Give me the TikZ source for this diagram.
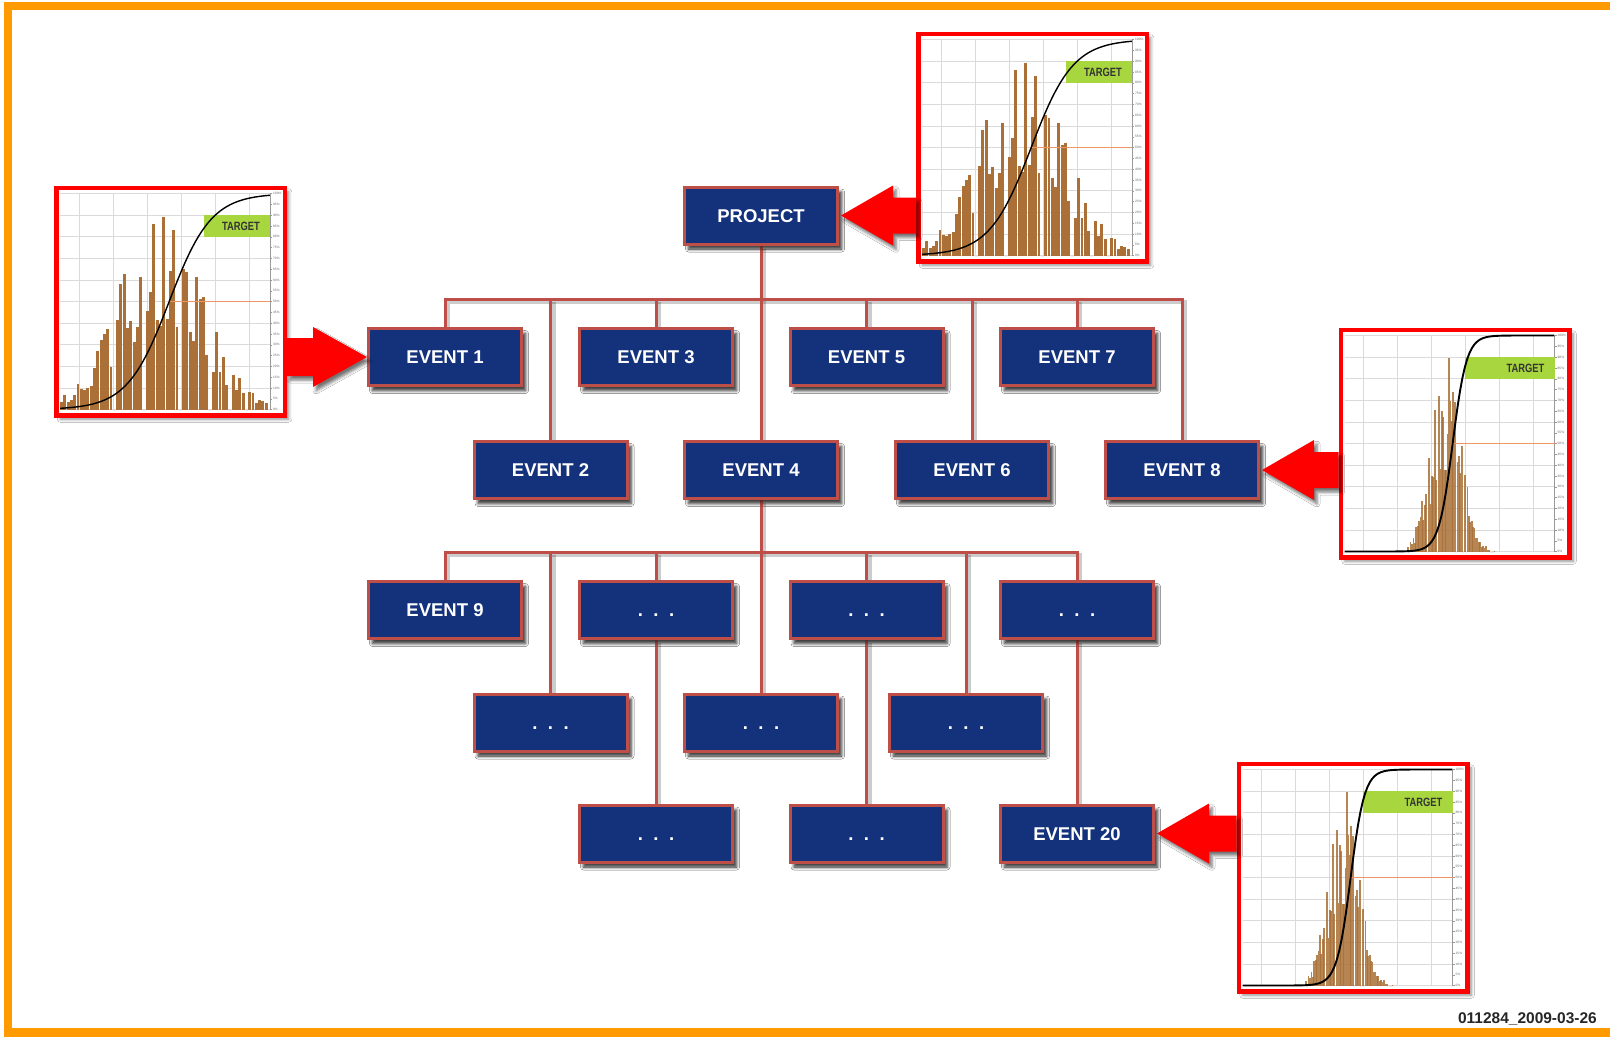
\documentclass[tikz,border=0pt]{standalone}
\usepackage{fontspec}
\setmainfont{Liberation Sans}
\usetikzlibrary{shadows.blur,calc}
\definecolor{navy}{RGB}{20,50,124}
\definecolor{linered}{RGB}{190,78,72}
\definecolor{frameorange}{RGB}{255,155,0}
\definecolor{barbrown}{RGB}{170,112,55}
\definecolor{tgreen}{RGB}{168,214,62}
\definecolor{gridgray}{RGB}{218,218,218}
\definecolor{halfline}{RGB}{240,150,100}
\tikzset{
  evbox/.style={draw=linered, line width=3pt, fill=navy, minimum width=153pt, minimum height=57pt,
    inner sep=0pt, text=white, font=\fontsize{18.5}{20}\selectfont\bfseries, text height=13.3pt, text depth=0pt,
    blur shadow={shadow xshift=4pt, shadow yshift=-5pt, shadow blur radius=3pt, shadow opacity=50}},
  chartbox/.style={draw=red, line width=4.5pt, fill=white, minimum width=228.5pt, minimum height=227.5pt,
    inner sep=0pt, blur shadow={shadow xshift=4pt, shadow yshift=-4pt, shadow blur radius=3pt, shadow opacity=45}},
  conn/.style={draw=linered, line width=3pt},
  connshadow/.style={draw=black, opacity=0.2, line width=4pt, transform canvas={shift={(3pt,-3pt)}}},
  fatarrow/.style={fill=red, blur shadow={shadow xshift=3pt, shadow yshift=-4pt, shadow blur radius=3pt, shadow opacity=55}},
  pct/.style={font=\fontsize{3.2}{3.2}\selectfont, text=black!60, anchor=west, inner sep=0pt},
}
% chart helpers (local coords: origin = outer top-left, y down)
\newcommand\chartgrid{%
  \foreach \gx in {25,59,93,127,161,195} \draw[gridgray, line width=0.7pt] (\gx,8) -- (\gx,224);
  \foreach \gv in {0,...,10} \draw[gridgray, line width=0.7pt] (6,{224-21.6*\gv}) -- (216,{224-21.6*\gv});
  \draw[black!40, line width=0.5pt] (216,8) -- (216,224);
  \foreach \p in {0,5,...,100} {
    \draw[black!40, line width=0.4pt] (216,{224-2.16*\p}) -- (218,{224-2.16*\p});
    \node[pct] at (219,{224-2.16*\p}) {\p\%};
  }}
\newcommand\chartbars[8]{% seed, f0, f1, n, mu, sd, barwidth, opacity
  \pgfmathsetseed{#1}
  \foreach \i in {0,...,#4}{
    \pgfmathsetmacro\ff{#2+(#3-#2)*\i/#4}
    \pgfmathsetmacro\hh{0.92*exp(-0.5*((\ff-#5)/#6)^2)*(rnd<0.08 ? 0 : 0.4+0.6*rnd)}
    \fill[barbrown, fill opacity=#8] ({6+210*\ff},224) rectangle ({6+210*\ff+#7},{224-216*\hh});
  }}
\newcommand\chartrest[5]{% fifty-start, target-start, mu, s, curve width
  \draw[halfline, line width=0.6pt] ({6+210*#1},116) -- (216,116);
  \fill[tgreen] ({6+210*#2},{224-216*0.9}) rectangle (216,{224-216*0.8});
  \node[font=\fontsize{12}{12}\selectfont\bfseries, text=black!80, anchor=east, inner sep=0pt, xscale=0.78]
    at (206,{224-216*0.85}) {TARGET};
  \draw[black, line width=#5pt, line join=round]
    plot[domain=0:1, samples=90] ({6+210*\x},{224-216/(1+exp(-max(-9,min(9,(\x-#3)/#4))))});
}
\newcommand\widechart[1]{%
  \begin{scope}[shift={(#1.north west)}]
    \chartgrid
    \chartbars{17}{0}{0.975}{62}{0.47}{0.2}{2.9}{1}
    \chartrest{0.52}{0.686}{0.52}{0.1}{1.4}
  \end{scope}}
\newcommand\narrowchart[1]{%
  \begin{scope}[shift={(#1.north west)}]
    \chartgrid
    \chartbars{23}{0.29}{0.71}{62}{0.48}{0.07}{1.8}{0.85}
    \chartrest{0.505}{0.576}{0.515}{0.033}{1.9}
  \end{scope}}
% fat arrows drawn from chart to node
\newcommand\arrowleft[2]{%
  \fill[fatarrow] ($(#2.east)+(2,0)$) -- ++(52,-30) -- ++(0,12) -- ($(#1.west |- #2.east)+(0,-18)$)
    -- ($(#1.west |- #2.east)+(0,18)$) -- ($(#2.east)+(54,18)$) -- ++(0,12) -- cycle;}
\newcommand\arrowright[2]{%
  \fill[fatarrow] (#2.west) -- ++(-54,-30) -- ++(0,11) -- ($(#1.east |- #2.west)+(0,-19)$)
    -- ($(#1.east |- #2.west)+(0,19)$) -- ($(#2.west)+(-54,19)$) -- ++(0,11) -- cycle;}
\newcommand\allconns[1]{%
  \draw[#1] (e1.north) |- (bus1) -| (e8.north);
  \draw[#1] (proj.south) -- (e4.north);
  \foreach \n in {e2,e3,e5,e6,e7} \draw[#1] (\n.north) -- (\n.north |- bus1);
  \draw[#1] (e9.north) |- (bus2) -| (d3.north);
  \draw[#1] (e4.south) -- (d5.north);
  \foreach \n in {d1,d2,d4,d6} \draw[#1] (\n.north) -- (\n.north |- bus2);
  \draw[#1] (d1.south) -- (d7.north);
  \draw[#1] (d2.south) -- (d8.north);
  \draw[#1] (d3.south) -- (e20.north);
}
\newcommand\tdots{.\hspace{10.5pt}.\hspace{10.5pt}.}
\begin{document}
\begin{tikzpicture}[x=1pt, y=-1pt]
\useasboundingbox (0,0) rectangle (1610,1039);
\fill[white] (0,0) rectangle (1610,1039);
\draw[frameorange, line width=8.5pt] (8,6) rectangle (1614,1032.5);

% charts
\node[chartbox] (c1) at (1032.5,147.5) {};
\widechart{c1}
\node[chartbox] (c2) at (170.5,301.5) {};
\widechart{c2}
\node[chartbox] (c3) at (1455,443.5) {};
\narrowchart{c3}
\node[chartbox] (c4) at (1353,877.5) {};
\narrowchart{c4}

% nodes (positions; redrawn later for layering)
\path
  node[evbox] (proj) at (761,215.5) {PROJECT}
  node[evbox] (e1) at (445,357) {EVENT 1}
  node[evbox] (e3) at (656,357) {EVENT 3}
  node[evbox] (e5) at (866.5,357) {EVENT 5}
  node[evbox] (e7) at (1077,357) {EVENT 7}
  node[evbox] (e2) at (550.5,470) {EVENT 2}
  node[evbox] (e4) at (761,470) {EVENT 4}
  node[evbox] (e6) at (972,470) {EVENT 6}
  node[evbox] (e8) at (1182,470) {EVENT 8}
  node[evbox] (e9) at (445,610) {EVENT 9}
  node[evbox] (d1) at (656,610) {\tdots}
  node[evbox] (d2) at (866.5,610) {\tdots}
  node[evbox] (d3) at (1077,610) {\tdots}
  node[evbox] (d4) at (550.5,722.5) {\tdots}
  node[evbox] (d5) at (761,722.5) {\tdots}
  node[evbox] (d6) at (966,722.5) {\tdots}
  node[evbox] (d7) at (656,833.5) {\tdots}
  node[evbox] (d8) at (866.5,833.5) {\tdots}
  node[evbox] (e20) at (1077,833.5) {EVENT 20};
\coordinate (bus1) at (761,299);
\coordinate (bus2) at (761,552);

% connectors: shadows, then lines
\allconns{connshadow}
\allconns{conn}

% redraw boxes on top of connectors
\path
  node[evbox] at (proj) {PROJECT}
  node[evbox] at (e1) {EVENT 1}
  node[evbox] at (e3) {EVENT 3}
  node[evbox] at (e5) {EVENT 5}
  node[evbox] at (e7) {EVENT 7}
  node[evbox] at (e2) {EVENT 2}
  node[evbox] at (e4) {EVENT 4}
  node[evbox] at (e6) {EVENT 6}
  node[evbox] at (e8) {EVENT 8}
  node[evbox] at (e9) {EVENT 9}
  node[evbox] at (d1) {\tdots}
  node[evbox] at (d2) {\tdots}
  node[evbox] at (d3) {\tdots}
  node[evbox] at (d4) {\tdots}
  node[evbox] at (d5) {\tdots}
  node[evbox] at (d6) {\tdots}
  node[evbox] at (d7) {\tdots}
  node[evbox] at (d8) {\tdots}
  node[evbox] at (e20) {EVENT 20};

% fat arrows
\arrowleft{c1}{proj}
\arrowright{c2}{e1}
\arrowleft{c3}{e8}
\arrowleft{c4}{e20}

\node[anchor=base east, inner sep=0pt, font=\fontsize{15.5}{16}\selectfont\bfseries, text=black!85] (stamp) at (1597,1023) {011284\_2009-03-26};
\end{tikzpicture}
\end{document}
